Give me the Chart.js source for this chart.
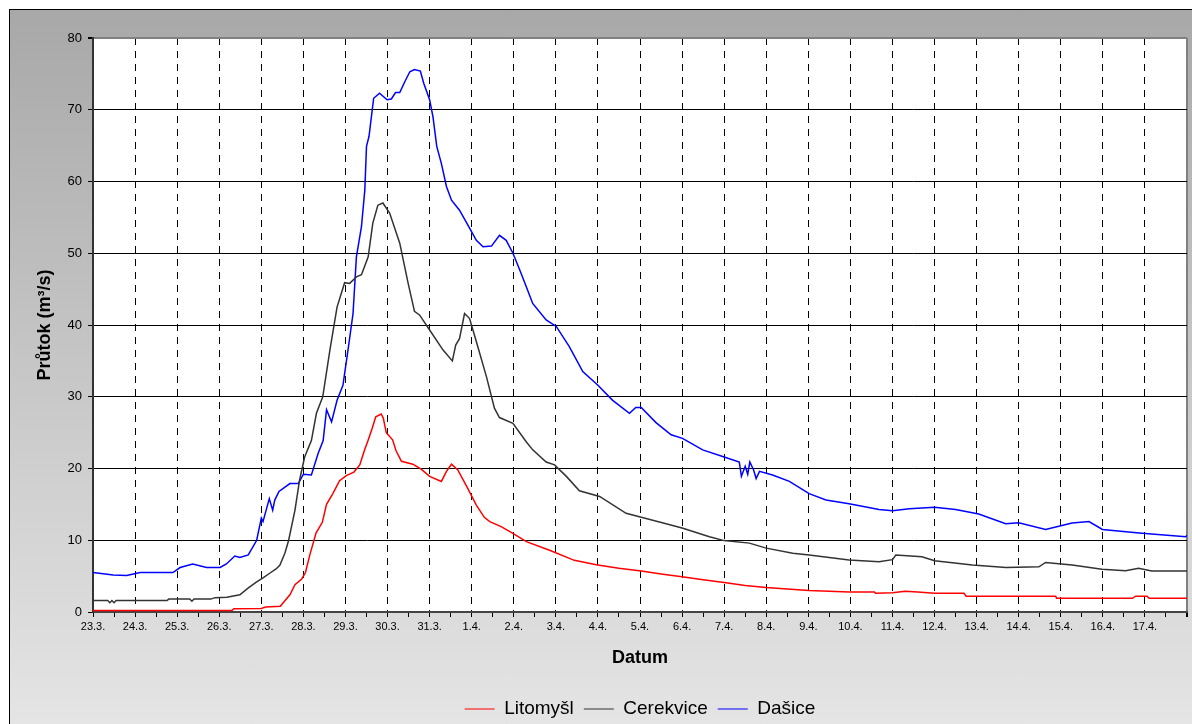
<!DOCTYPE html>
<html lang="cs">
<head>
<meta charset="utf-8">
<title>Průtok</title>
<script src="https://cdn.jsdelivr.net/npm/chart.js@4/dist/chart.umd.min.js"></script>
<style>
  html, body { margin: 0; padding: 0; width: 1192px; height: 724px; overflow: hidden; }
  #ramecek {
    position: absolute; left: 9px; top: 9px; width: 1200px; height: 730px;
    border-left: 1px solid #000; border-top: 1px solid #000;
    background: linear-gradient(to bottom, #a8a8a8 0%, #e6e6e6 100%);
  }
  #graf { position: absolute; left: 0; top: 0; }
</style>
</head>
<body>
<div id="ramecek"></div>
<canvas id="graf" width="1192" height="724"></canvas>
<script>
// popisky dnů na ose x (od 23.3.)
const dny = ['23.3.', '24.3.', '25.3.', '26.3.', '27.3.', '28.3.', '29.3.', '30.3.', '31.3.',
  '1.4.', '2.4.', '3.4.', '4.4.', '5.4.', '6.4.', '7.4.', '8.4.', '9.4.', '10.4.', '11.4.',
  '12.4.', '13.4.', '14.4.', '15.4.', '16.4.', '17.4.'];

// Litomyšl - čas ve dnech od 23.3. 0:00, průtok v m3/s
const litomyslCas = [0, 3.3, 3.35, 4.0, 4.1, 4.45, 4.68, 4.8, 4.96, 5.05, 5.15, 5.3, 5.45, 5.55, 5.7, 5.86,
  6.02, 6.2, 6.34, 6.45, 6.53, 6.63, 6.72, 6.85, 6.9, 6.97, 7.12, 7.2, 7.33, 7.6, 7.8, 8.0, 8.28, 8.4,
  8.52, 8.67, 8.9, 9.11, 9.3, 9.43, 9.7, 9.97, 10.3, 10.85, 11.44, 11.96, 12.5, 13.03, 13.5, 14.0, 14.5,
  15.0, 15.5, 16.0, 16.5, 17.02, 17.5, 17.97, 18.57, 18.6, 19.0, 19.3, 19.6, 20.0, 20.7, 20.75, 22.88,
  22.9, 24.7, 24.78, 25.05, 25.1, 26];
const litomyslQ = [0.2, 0.2, 0.45, 0.5, 0.7, 0.8, 2.4, 3.8, 4.6, 5.5, 7.9, 11.0, 12.5, 15.0, 16.5, 18.3,
  19.0, 19.5, 20.5, 22.5, 23.8, 25.5, 27.2, 27.6, 27.0, 25.0, 24.0, 22.5, 21.0, 20.6, 19.9, 18.9, 18.2, 19.6,
  20.6, 19.8, 17.3, 14.9, 13.2, 12.6, 11.9, 11.0, 9.8, 8.6, 7.2, 6.6, 6.1, 5.7, 5.3, 4.9, 4.5,
  4.1, 3.7, 3.4, 3.2, 3.0, 2.9, 2.8, 2.8, 2.6, 2.7, 2.9, 2.8, 2.6, 2.6, 2.2, 2.2,
  1.9, 1.9, 2.2, 2.2, 1.9, 1.9];

// Cerekvice
const cerekviceCas = [0, 0.35, 0.4, 0.45, 0.5, 0.55, 1.0, 1.76, 1.8, 2.3, 2.35, 2.4, 2.8, 2.9, 3.18, 3.49,
  3.7, 3.89, 4.05, 4.2, 4.35, 4.44, 4.56, 4.65, 4.8, 4.91, 5.03, 5.19, 5.31, 5.46, 5.63, 5.8, 5.98, 6.1,
  6.26, 6.38, 6.54, 6.65, 6.77, 6.89, 7.05, 7.29, 7.49, 7.64, 7.76, 8.0, 8.32, 8.54, 8.62, 8.71, 8.83,
  8.95, 9.11, 9.35, 9.54, 9.66, 9.98, 10.3, 10.45, 10.77, 10.97, 11.25, 11.56, 12.04, 12.67, 13.03, 13.62,
  14.0, 14.65, 15.0, 15.6, 16.0, 16.63, 17.02, 17.97, 18.68, 19.0, 19.08, 19.7, 20.0, 20.9, 21.7, 22.48,
  22.64, 23.27, 23.98, 24.54, 24.85, 25.16, 26];
const cerekviceQ = [1.6, 1.6, 1.3, 1.6, 1.3, 1.6, 1.6, 1.6, 1.8, 1.8, 1.5, 1.8, 1.8, 2.0, 2.05, 2.4,
  3.4, 4.2, 4.8, 5.4, 6.0, 6.5, 8.2, 10.0, 14.2, 18.4, 21.6, 23.9, 27.7, 30.0, 36.5, 42.5, 45.9, 45.8,
  46.7, 47.0, 49.5, 54.2, 56.7, 57.0, 55.6, 51.4, 45.8, 41.9, 41.4, 39.3, 36.5, 35.0, 37.2, 38.1, 41.6,
  40.9, 37.7, 32.8, 28.4, 27.1, 26.3, 23.7, 22.6, 20.9, 20.5, 18.9, 16.9, 16.1, 13.75, 13.2, 12.3,
  11.7, 10.5, 9.95, 9.6, 8.9, 8.2, 7.95, 7.25, 7.0, 7.3, 7.95, 7.7, 7.15, 6.55, 6.2, 6.3,
  6.9, 6.55, 5.95, 5.76, 6.1, 5.7, 5.7];

// Dašice
const dasiceCas = [0, 0.48, 0.8, 1.12, 1.9, 2.07, 2.37, 2.7, 3.02, 3.17, 3.37, 3.49, 3.69, 3.89, 4.0, 4.04,
  4.19, 4.27, 4.32, 4.42, 4.68, 4.88, 5.0, 5.19, 5.35, 5.47, 5.55, 5.67, 5.8, 5.94, 6.06, 6.18, 6.26, 6.38,
  6.46, 6.5, 6.56, 6.67, 6.81, 6.99, 7.09, 7.19, 7.29, 7.41, 7.53, 7.64, 7.78, 7.86, 8.0, 8.08, 8.17, 8.28,
  8.4, 8.52, 8.71, 8.95, 9.11, 9.27, 9.47, 9.66, 9.82, 9.98, 10.14, 10.3, 10.45, 10.77, 11.01, 11.32, 11.64,
  12.0, 12.35, 12.75, 12.9, 13.03, 13.38, 13.74, 14.01, 14.49, 15.0, 15.36, 15.41, 15.5, 15.56, 15.61, 15.7,
  15.76, 15.84, 16.15, 16.55, 17.02, 17.42, 17.97, 18.68, 19.0, 19.4, 20.0, 20.5, 21.05, 21.69, 22.0, 22.64,
  23.27, 23.67, 23.99, 24.86, 25.97, 26];
const dasiceQ = [5.5, 5.15, 5.1, 5.5, 5.5, 6.2, 6.7, 6.2, 6.2, 6.7, 7.8, 7.6, 7.95, 10.0, 13.1, 12.6,
  15.8, 14.2, 15.6, 16.8, 17.9, 17.9, 19.2, 19.1, 22.1, 23.9, 28.2, 26.5, 29.5, 31.6, 36.5, 41.6, 49.5, 53.7,
  58.8, 64.9, 66.3, 71.6, 72.3, 71.4, 71.5, 72.4, 72.4, 73.9, 75.3, 75.6, 75.4, 73.7, 71.4, 69.0, 64.9, 62.5,
  59.3, 57.4, 56.0, 53.5, 51.8, 50.9, 51.0, 52.5, 51.8, 50.0, 47.7, 45.3, 43.0, 40.7, 39.8, 37.0, 33.5,
  31.6, 29.5, 27.7, 28.5, 28.5, 26.4, 24.7, 24.2, 22.6, 21.6, 20.9, 18.9, 20.3, 19.2, 20.9, 19.8,
  18.6, 19.6, 19.1, 18.2, 16.5, 15.6, 15.1, 14.3, 14.1, 14.4, 14.6, 14.3, 13.65, 12.3, 12.45, 11.5,
  12.4, 12.6, 11.5, 11.0, 10.5, 10.7];

// dvojice x/y pro Chart.js
function body(cas, q) {
  return cas.map((t, i) => ({ x: t, y: q[i] }));
}

const pismo = "'Liberation Sans', Arial, sans-serif";

// bílé pozadí plochy grafu
const bilaPlocha = {
  id: 'bilaPlocha',
  beforeDraw(chart) {
    const a = chart.chartArea;
    const ctx = chart.ctx;
    ctx.save();
    ctx.fillStyle = '#ffffff';
    ctx.fillRect(a.left, a.top, a.right - a.left, a.bottom - a.top);
    ctx.restore();
  }
};

// legendu vycentrovat pod plochou grafu a posunout o kousek níž
const posunLegendy = {
  id: 'posunLegendy',
  afterLayout(chart) {
    const l = chart.legend;
    const dx = (chart.chartArea.left + chart.chartArea.right) / 2 - (l.left + l.right) / 2;
    l.left += dx;
    l.right += dx;
    l.top += 4.5;
    l.bottom += 4.5;
  }
};

new Chart(document.getElementById('graf').getContext('2d'), {
  type: 'line',
  data: {
    datasets: [
      { label: 'Litomyšl', data: body(litomyslCas, litomyslQ), borderColor: '#ff0000', backgroundColor: '#ff0000' },
      { label: 'Cerekvice', data: body(cerekviceCas, cerekviceQ), borderColor: '#333333', backgroundColor: '#333333' },
      { label: 'Dašice', data: body(dasiceCas, dasiceQ), borderColor: '#0000ff', backgroundColor: '#0000ff' }
    ]
  },
  options: {
    responsive: false,
    animation: false,
    events: [],
    layout: { padding: { left: 30, top: 38, right: 5, bottom: 0 } },
    elements: {
      line: { borderWidth: 1.5, tension: 0 },
      point: { radius: 0 }
    },
    plugins: {
      tooltip: { enabled: false },
      legend: {
        position: 'bottom',
        labels: {
          usePointStyle: true,
          pointStyle: 'line',
          pointStyleWidth: 30,
          padding: 10,
          color: '#000',
          font: { family: pismo, size: 19, lineHeight: 1 }
        }
      }
    },
    scales: {
      x: {
        type: 'linear',
        min: 0,
        max: 26,
        afterFit: s => { s.height = 73; },
        ticks: {
          stepSize: 0.5,
          autoSkip: false,
          maxRotation: 0,
          padding: 3,
          color: '#000',
          font: { family: pismo, size: 11 },
          callback: v => (Number.isInteger(v) && v < dny.length) ? dny[v] : ''
        },
        grid: {
          color: c => {
            const v = c.tick.value;
            if (v === 26) return '#808080';
            if (Number.isInteger(v) && v > 0) return '#000';
            return 'rgba(0,0,0,0)';
          },
          lineWidth: c => c.tick.value === 26 ? 2 : 1,
          tickColor: '#000',
          tickLength: 5
        },
        border: {
          color: '#444',
          width: 2,
          dash: c => (c.tick && c.tick.value < 26) ? [7, 6] : []
        },
        title: {
          display: true,
          text: 'Datum',
          color: '#000',
          font: { family: pismo, size: 18, weight: 'bold' },
          padding: { top: 4, bottom: 16 }
        }
      },
      y: {
        min: 0,
        max: 80,
        afterFit: s => { s.width = 63; },
        ticks: {
          stepSize: 10,
          padding: 6,
          color: '#000',
          font: { family: pismo, size: 13 }
        },
        grid: {
          color: c => {
            const v = c.tick.value;
            if (v === 0) return 'rgba(0,0,0,0)';
            if (v === 80) return '#808080';
            return '#000';
          },
          lineWidth: c => c.tick.value === 80 ? 2 : 1,
          tickColor: '#000',
          tickLength: 5
        },
        border: { color: '#333', width: 2 },
        title: {
          display: true,
          text: 'Průtok (m³/s)',
          color: '#000',
          font: { family: pismo, size: 18, weight: 'bold' },
          padding: { top: 4, bottom: 4 }
        }
      }
    }
  },
  plugins: [bilaPlocha, posunLegendy]
});
</script>
</body>
</html>
